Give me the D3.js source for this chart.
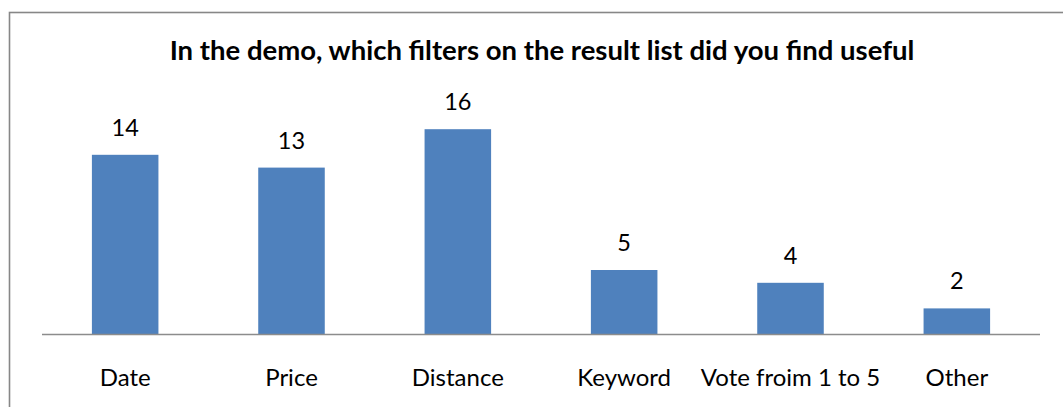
<!DOCTYPE html>
<html>
<head>
<meta charset="utf-8">
<script src="https://cdn.jsdelivr.net/npm/d3@7"></script>
<style>
  body { margin: 0; background: #fff; }
  text { font-family: Lato, "Open Sans", sans-serif; fill: #000; }
</style>
</head>
<body>
<script>
var svg_width  = 1063;
var svg_height = 407;

var title = "In the demo, which filters on the result list did you find useful";
var categories = ["Date", "Price", "Distance", "Keyword", "Vote froim 1 to 5", "Other"];
var counts = [14, 13, 16, 5, 4, 2];

var svg = d3.select('body').append('svg')
            .attr('width', svg_width)
            .attr('height', svg_height);

// outer chart frame (runs off the right / bottom edge)
svg.append("rect")
   .attr("x", 9.5)
   .attr("y", 12.5)
   .attr("width", 1080)
   .attr("height", 420)
   .attr("fill", "none")
   .attr("stroke", "#878787")
   .attr("stroke-width", 1.6);

svg.append("text")
   .attr("x", 542)
   .attr("y", 60)
   .attr("text-anchor", "middle")
   .attr("font-weight", "bold")
   .attr("font-size", 27.5)
   .text(title);

var x = d3.scaleBand()
          .domain(categories)
          .range([42, 1040])
          .paddingInner(0.6)
          .paddingOuter(0.3);

var y = d3.scaleLinear()
          .domain([0, 18])
          .range([334, 103.6]);

var data = categories.map((c, i) => ({cat: c, value: counts[i]}));

svg.append("g")
   .selectAll("rect")
   .data(data)
   .enter().append("rect")
   .attr("x", d => x(d.cat))
   .attr("y", d => y(d.value))
   .attr("width", x.bandwidth())
   .attr("height", d => y(0) - y(d.value))
   .attr("fill", "#4f81bd");

// baseline
svg.append("line")
   .attr("x1", 42)
   .attr("x2", 1040)
   .attr("y1", y(0) + 0.5)
   .attr("y2", y(0) + 0.5)
   .attr("stroke", "#8c8c8c")
   .attr("stroke-width", 1.5);

svg.append("g")
   .selectAll("text")
   .data(data)
   .enter().append("text")
   .attr("x", d => x(d.cat) + x.bandwidth() / 2)
   .attr("y", d => y(d.value) - 19)
   .attr("text-anchor", "middle")
   .attr("font-size", 23.5)
   .text(d => d.value);

var xAxis = d3.axisBottom(x).tickSize(0).tickPadding(0);
var ax = svg.append("g")
   .attr("transform", "translate(0," + y(0) + ")")
   .call(xAxis);
ax.select(".domain").remove();
ax.selectAll("text")
  .attr("dy", null)
  .attr("y", 51.7)
  .attr("font-size", 24)
  .attr("font-family", "Lato, 'Open Sans', sans-serif")
  .attr("fill", "#000");
</script>
</body>
</html>
